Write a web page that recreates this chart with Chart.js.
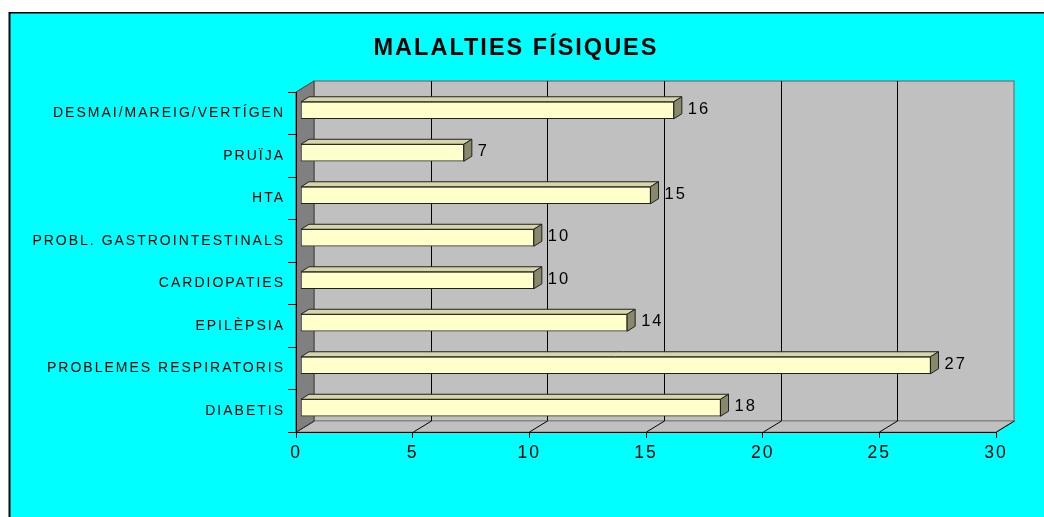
<!DOCTYPE html>
<html>
<head>
<meta charset="utf-8">
<title>MALALTIES FÍSIQUES</title>
<script src="https://cdn.jsdelivr.net/npm/chart.js@4/dist/chart.umd.min.js"></script>
<style>
    body { margin: 0; background: #ffffff; }
    canvas { display: block; }
</style>
</head>
<body>
<canvas id="malaltiesChart" width="1044" height="517"></canvas>
<script>
//data
var categories = ["DESMAI/MAREIG/VERTÍGEN", "PRUÏJA", "HTA", "PROBL. GASTROINTESTINALS", "CARDIOPATIES", "EPILÈPSIA", "PROBLEMES RESPIRATORIS", "DIABETIS"];
var casos = [16, 7, 15, 10, 10, 14, 27, 18];
var xTicks = [0, 5, 10, 15, 20, 25, 30];

var font = "'Liberation Sans', Arial, sans-serif";
var DX = 18, DY = -11;      //depth of the 3d box
var BX = 4.5, BY = -3;      //where the bar front sits inside the depth
var BDX = 8, BDY = -5;      //depth of each bar

//walls, floor and the cyan frame, drawn before the axes
var wallsPlugin = {
    id: 'walls',
    afterLayout: function(chart) {
        //title sits centred on the frame, not on the canvas
        chart.titleBlock.left += 36;
    },
    beforeDraw: function(chart) {
        var ctx = chart.ctx;
        var a = chart.chartArea;
        var xs = chart.scales.x;
        ctx.save();
        ctx.fillStyle = '#ffffff';
        ctx.fillRect(0, 0, chart.width, chart.height);
        ctx.fillStyle = '#00ffff';
        ctx.fillRect(10, 13, chart.width - 10, chart.height - 13);
        ctx.fillStyle = '#808080';
        ctx.fillRect(8, 12, 1, chart.height - 12);
        ctx.fillStyle = '#000000';
        ctx.fillRect(9, 12, chart.width - 9, 1.5);
        ctx.fillRect(9, 12, 1.5, chart.height - 12);

        //back wall
        ctx.fillStyle = '#c0c0c0';
        ctx.fillRect(a.left + DX, a.top + DY, a.right - a.left, a.bottom - a.top);
        ctx.strokeStyle = '#808080';
        ctx.lineWidth = 1.5;
        ctx.strokeRect(a.left + DX, a.top + DY, a.right - a.left, a.bottom - a.top);

        //floor
        ctx.beginPath();
        ctx.moveTo(a.left, a.bottom);
        ctx.lineTo(a.left + DX, a.bottom + DY);
        ctx.lineTo(a.right + DX, a.bottom + DY);
        ctx.lineTo(a.right, a.bottom);
        ctx.closePath();
        ctx.fillStyle = '#c0c0c0';
        ctx.fill();
        ctx.strokeStyle = '#808080';
        ctx.lineWidth = 1;
        ctx.stroke();

        //gridlines on the wall and on the floor
        ctx.strokeStyle = '#000000';
        ctx.lineWidth = 1;
        xTicks.forEach(function(v, i) {
            var px = Math.round(xs.getPixelForValue(v)) + 0.5;
            ctx.beginPath();
            ctx.moveTo(px, a.bottom);
            ctx.lineTo(px + DX, a.bottom + DY);
            if (i > 0 && i < xTicks.length - 1) {
                ctx.lineTo(px + DX, a.top + DY);
            }
            ctx.stroke();
        });

        //left wall
        ctx.beginPath();
        ctx.moveTo(a.left, a.top);
        ctx.lineTo(a.left + DX, a.top + DY);
        ctx.lineTo(a.left + DX, a.bottom + DY);
        ctx.lineTo(a.left, a.bottom);
        ctx.closePath();
        ctx.fillStyle = '#808080';
        ctx.fill();
        ctx.strokeStyle = '#404040';
        ctx.stroke();
        ctx.restore();

        //wide excel-like lettering for every text
        ctx.letterSpacing = '2px';
    }, //end beforeDraw
    beforeDatasetsDraw: function(chart) {
        chart.ctx.save();
        chart.ctx.translate(BX, BY);
    },
    afterDatasetsDraw: function(chart) {
        var ctx = chart.ctx;
        var meta = chart.getDatasetMeta(0);
        meta.data.forEach(function(bar, i) {
            var p = bar.getProps(['x', 'y', 'base', 'height'], true);
            var left = p.base, right = p.x;
            var top = p.y - p.height / 2, bottom = p.y + p.height / 2;
            ctx.lineWidth = 1;
            ctx.strokeStyle = '#202020';
            //top face
            ctx.beginPath();
            ctx.moveTo(left, top);
            ctx.lineTo(left + BDX, top + BDY);
            ctx.lineTo(right + BDX, top + BDY);
            ctx.lineTo(right, top);
            ctx.closePath();
            ctx.fillStyle = '#d6d6ab';
            ctx.fill();
            ctx.stroke();
            //side face
            ctx.beginPath();
            ctx.moveTo(right, top);
            ctx.lineTo(right + BDX, top + BDY);
            ctx.lineTo(right + BDX, bottom + BDY);
            ctx.lineTo(right, bottom);
            ctx.closePath();
            ctx.fillStyle = '#88886c';
            ctx.fill();
            ctx.stroke();
            //value label
            ctx.fillStyle = '#000000';
            ctx.font = '16.5px ' + font;
            ctx.textAlign = 'left';
            ctx.textBaseline = 'middle';
            ctx.fillText(String(casos[i]), right + BDX + 6, p.y - 1);
        });
        ctx.restore();
    } //end afterDatasetsDraw
}; //end wallsPlugin

var malaltiesContext = document.getElementById('malaltiesChart').getContext('2d');
var malaltiesChart = new Chart(malaltiesContext, {
    type: 'bar',
    data: {
        labels: categories,
        datasets: [{
            data: casos,
            backgroundColor: '#ffffcc',
            borderColor: '#202020',
            borderWidth: 1,
            borderSkipped: false,
            barThickness: 17
        }] //end datasets
    }, //end data
    plugins: [wallsPlugin],
    options: {
        indexAxis: 'y',
        responsive: false,
        animation: false,
        layout: {
            padding: { left: 0, right: 48, top: 0, bottom: 0 }
        },
        plugins: {
            legend: { display: false },
            tooltip: { enabled: false },
            title: {
                display: true,
                text: 'MALALTIES FÍSIQUES',
                color: '#000000',
                font: { family: font, size: 23.5, weight: 'bold', lineHeight: 1.2 },
                padding: { top: 34, bottom: 29.8 }
            }
        },
        scales: {
            x: {
                min: 0,
                max: 30,
                afterFit: function(scale) { scale.height = 85; },
                afterBuildTicks: function(scale) {
                    scale.ticks = xTicks.map(function(v) { return { value: v }; });
                },
                grid: { drawOnChartArea: false, drawTicks: true, tickLength: 6, color: '#000000' },
                border: { display: true, color: '#000000', width: 1 },
                ticks: { color: '#000000', font: { family: font, size: 17.5 }, padding: 5, maxRotation: 0 }
            },
            y: {
                afterFit: function(scale) { scale.width = 296; },
                grid: { drawOnChartArea: false, drawTicks: true, tickLength: 8, color: '#000000', offset: true },
                border: { display: true, color: '#000000', width: 1 },
                ticks: { color: '#000000', font: { family: font, size: 14 }, padding: 3 }
            }
        }
    } //end options
}); //end malaltiesChart var
</script>
</body>
</html>
